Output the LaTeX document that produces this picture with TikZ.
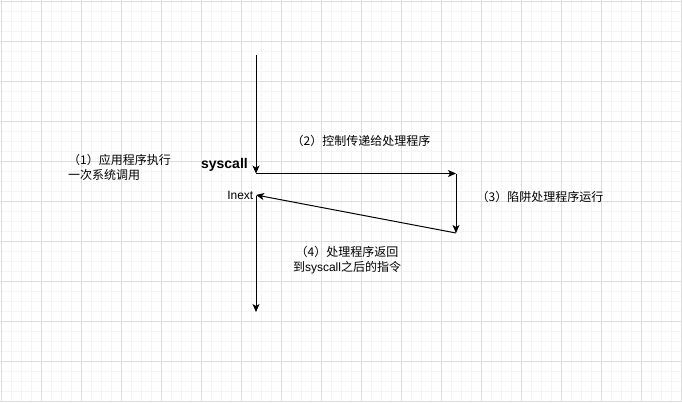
\documentclass[tikz,border=0pt]{standalone}
\usepackage{fontspec}
\setmainfont{Liberation Sans}
\newfontfamily\cjk{Noto Sans CJK SC}
\usetikzlibrary{arrows.meta}
\definecolor{gmajor}{HTML}{DCDCDC}
\definecolor{gminor}{HTML}{F4F4F4}
\begin{document}
\begin{tikzpicture}[x=1pt,y=-1pt,
  flow/.style={line width=1pt,-{Stealth[length=8pt,width=7pt,inset=2pt]}},
  lbl/.style={inner sep=0pt,font=\fontsize{12}{14.4}\selectfont},
  ]
\useasboundingbox (0,0) rectangle (682,402);
\fill[white] (0,0) rectangle (682,402);
\foreach \i in {1,11,...,681} \draw[gminor,line width=0.6pt] (\i,0) -- (\i,402);
\foreach \j in {1,11,...,401} \draw[gminor,line width=0.6pt] (0,\j) -- (682,\j);
\foreach \i in {1,41,...,681} \draw[gmajor,line width=0.8pt] (\i,0) -- (\i,402);
\foreach \j in {1,41,...,401} \draw[gmajor,line width=0.8pt] (0,\j) -- (682,\j);

\coordinate (top) at (256,55);
\coordinate (sys) at (256,173.5);
\coordinate (tr) at (456,173.5);
\coordinate (br) at (456,233);
\coordinate (nx) at (256,195);
\coordinate (bot) at (256,312);

\draw[flow] (top) -- (sys);
\draw[flow] (sys) -- (tr);
\draw[flow] (tr) -- (br);
\draw[flow] (br) -- (nx);
\draw[line width=1pt,-{Stealth[length=8pt,width=7pt,inset=2pt]}] (256,196) -- (bot);

\node[lbl,anchor=east,font=\fontsize{14}{16}\selectfont\bfseries] (syscall) at (248,165) {syscall};
\node[lbl,anchor=east] (inext) at (253.5,195) {Inext};
\node[lbl,anchor=west,align=left] (s1) at (68,167.5) {\cjk （1）应用程序执行\\\cjk 一次系统调用};
\node[lbl] (s2) at (361,141) {\cjk （2）控制传递给处理程序};
\node[lbl] (s3) at (540,197) {\cjk （3）陷阱处理程序运行};
\node[lbl,align=center] (s4) at (347,260) {\cjk （4）处理程序返回\\{\cjk 到}syscall{\cjk 之后的指令}};
\end{tikzpicture}
\end{document}
